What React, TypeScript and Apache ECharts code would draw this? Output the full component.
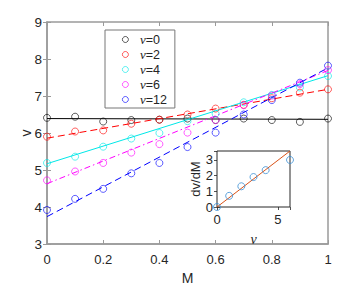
import React, { useEffect, useRef } from "react";
import * as echarts from "echarts";

const M = [0, 0.1, 0.2, 0.3, 0.4, 0.5, 0.6, 0.7, 0.8, 0.9, 1.0];
const nuLabels = ["0", "2", "4", "6", "12"];
const v0 = [6.41, 6.44, 6.31, 6.35, 6.36, 6.39, 6.35, 6.39, 6.35, 6.3, 6.39];
const v2 = [5.9, 6.04, 6.07, 6.25, 6.36, 6.5, 6.66, 6.76, 6.94, 7.09, 7.18];
const v4 = [5.19, 5.36, 5.63, 5.85, 6.0, 6.32, 6.52, 6.83, 7.03, 7.23, 7.54];
const v6 = [4.72, 4.96, 5.19, 5.47, 5.7, 6.01, 6.35, 6.75, 7.01, 7.32, 7.7];
const v12 = [3.92, 4.22, 4.49, 4.91, 5.19, 5.62, 6.01, 6.5, 6.89, 7.36, 7.82];
const fitM = [0, 1];
const fit0 = [6.39, 6.37];
const fit2 = [5.86, 7.18];
const fit4 = [5.17, 7.55];
const fit6 = [4.63, 7.69];
const fit12 = [3.74, 7.76];

const insetNu = [0, 1, 2, 3, 4, 6];
const insetSlope = [0, 0.71, 1.32, 1.91, 2.35, 3.0];
const insetFitNu = [0, 6];
const insetFitSlope = [0, 3.57];

const colors = ["#000000", "#ff0000", "#00e8e8", "#ff00ff", "#0000ff"];
const lineTypes: any[] = ["solid", [7, 4], "solid", [6, 3, 1.5, 3], [7, 4]];
const allV = [v0, v2, v4, v6, v12];
const allFit = [fit0, fit2, fit4, fit6, fit12];

const FONT = "'Liberation Sans', Arial, sans-serif";
const SERIF = "'Liberation Serif', 'DejaVu Serif', serif";

export default function App() {
  const ref = useRef<HTMLDivElement>(null);
  useEffect(() => {
    const chart = echarts.init(ref.current!, null, { renderer: "svg" });
    const mainAxisColor = "#9a9a9a";
    const txt = "#262626";
    const names = nuLabels.map((n) => "ν=" + n);
    const series: any[] = [];
    allV.forEach((vals, i) => {
      series.push({
        name: names[i] + "fit",
        type: "line",
        xAxisIndex: 0,
        yAxisIndex: 0,
        data: fitM.map((m, k) => [m, allFit[i][k]]),
        showSymbol: false,
        lineStyle: { color: colors[i], width: 1, type: lineTypes[i] },
        z: 2,
      });
    });
    allV.forEach((vals, i) => {
      series.push({
        name: names[i],
        type: "scatter",
        xAxisIndex: 0,
        yAxisIndex: 0,
        data: M.map((m, k) => [m, vals[k]]),
        symbol: "circle",
        symbolSize: 7,
        itemStyle: { color: "rgba(255,255,255,0)", borderColor: colors[i], borderWidth: 0.8 },
        z: 3,
      });
    });
    series.push({
      name: "insetFit",
      type: "line",
      xAxisIndex: 2,
      yAxisIndex: 2,
      data: insetFitNu.map((n, k) => [n, insetFitSlope[k]]),
      showSymbol: false,
      lineStyle: { color: "#D95319", width: 1 },
      z: 5,
    });
    series.push({
      name: "insetPts",
      type: "scatter",
      xAxisIndex: 2,
      yAxisIndex: 2,
      data: insetNu.map((n, k) => [n, insetSlope[k]]),
      symbol: "circle",
      symbolSize: 7,
      itemStyle: { color: "rgba(255,255,255,0)", borderColor: "#3a8fd4", borderWidth: 1 },
      z: 6,
    });

    const mainTick = { show: true, inside: true, length: 4, lineStyle: { color: mainAxisColor, width: 1 } };
    const insetTick = { show: true, inside: true, length: 3, lineStyle: { color: "#262626", width: 0.8 } };

    chart.setOption({
      animation: false,
      backgroundColor: "#ffffff",
      grid: [
        {
          left: 47, right: 34, top: 22, bottom: 41,
          show: true, borderColor: mainAxisColor, borderWidth: 1.5, backgroundColor: "#ffffff",
        },
        {
          left: 217, right: 72, top: 151, bottom: 83,
          show: true, borderColor: "#262626", borderWidth: 1, backgroundColor: "#ffffff", z: 4,
        },
      ],
      legend: {
        data: names,
        orient: "vertical",
        left: 105,
        top: 30,
        padding: [3, 8, 2, 17],
        itemGap: 2,
        itemWidth: 7,
        itemHeight: 6,
        itemStyle: { color: "rgba(255,255,255,0)", borderWidth: 0.8 },
        borderColor: "#777777",
        borderWidth: 1,
        backgroundColor: "#ffffff",
        icon: "circle",
        formatter: (name: string) => "{i|ν}{n|" + name.slice(1) + "}",
        textStyle: {
          padding: [0, 0, 0, 6],
          rich: {
            i: { fontFamily: SERIF, fontStyle: "italic", fontSize: 13, color: txt, lineHeight: 13 },
            n: { fontFamily: FONT, fontSize: 12.5, color: txt, lineHeight: 13 },
          },
        },
      },
      xAxis: [
        {
          gridIndex: 0, type: "value", min: 0, max: 1, interval: 0.2,
          name: "M", nameLocation: "middle", nameGap: 27, nameMoveOverlap: false,
          nameTextStyle: { fontFamily: FONT, fontSize: 14, color: txt },
          axisLine: { show: true, lineStyle: { color: mainAxisColor, width: 1.5 } },
          axisTick: mainTick,
          axisLabel: { fontFamily: FONT, fontSize: 13, color: txt, margin: 9, formatter: (v: number) => (v === 0 || v === 1 ? String(v) : v.toFixed(1)) },
          splitLine: { show: false },
        },
        {
          gridIndex: 0, type: "value", min: 0, max: 1, interval: 0.2, position: "top",
          axisLine: { show: false }, axisTick: mainTick, axisLabel: { show: false }, splitLine: { show: false },
        },
        {
          gridIndex: 1, type: "value", min: 0, max: 6, interval: 5,
          name: "ν", nameLocation: "middle", nameGap: 25, nameMoveOverlap: false,
          nameTextStyle: { fontFamily: SERIF, fontStyle: "italic", fontSize: 14, color: txt },
          axisLine: { show: false }, axisTick: insetTick,
          axisLabel: { fontFamily: FONT, fontSize: 13, color: txt, margin: 6, showMaxLabel: false },
          splitLine: { show: false },
        },
        {
          gridIndex: 1, type: "value", min: 0, max: 6, interval: 5, position: "top",
          axisLine: { show: false }, axisTick: insetTick, axisLabel: { show: false }, splitLine: { show: false },
        },
      ],
      yAxis: [
        {
          gridIndex: 0, type: "value", min: 3, max: 9, interval: 1,
          name: "v", nameLocation: "middle", nameGap: 14, nameMoveOverlap: false,
          nameTextStyle: { fontFamily: FONT, fontSize: 14, color: txt },
          axisLine: { show: true, lineStyle: { color: mainAxisColor, width: 1.5 } },
          axisTick: mainTick,
          axisLabel: { fontFamily: FONT, fontSize: 13.5, color: txt, margin: 5 },
          splitLine: { show: false },
        },
        {
          gridIndex: 0, type: "value", min: 3, max: 9, interval: 1, position: "right",
          axisLine: { show: false }, axisTick: mainTick, axisLabel: { show: false }, splitLine: { show: false },
        },
        {
          gridIndex: 1, type: "value", min: 0, max: 3.57, interval: 1,
          name: "dv/dM", nameLocation: "middle", nameGap: 15, nameMoveOverlap: false,
          nameTextStyle: { fontFamily: FONT, fontSize: 13, color: txt },
          axisLine: { show: false }, axisTick: insetTick,
          axisLabel: { fontFamily: FONT, fontSize: 13, color: txt, margin: 4, showMaxLabel: false },
          splitLine: { show: false },
        },
        {
          gridIndex: 1, type: "value", min: 0, max: 3.57, interval: 1, position: "right",
          axisLine: { show: false }, axisTick: insetTick, axisLabel: { show: false }, splitLine: { show: false },
        },
      ],
      series,
    });
    return () => chart.dispose();
  }, []);
  return <div ref={ref} style={{ width: 362, height: 290, position: "absolute", left: 0, top: 0 }} />;
}
